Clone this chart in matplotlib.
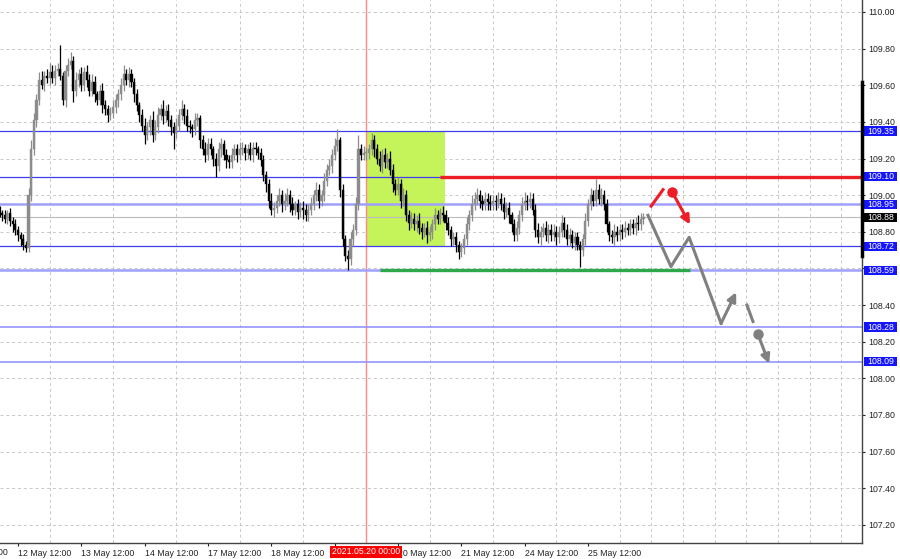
import matplotlib
matplotlib.use('Agg')
import matplotlib.pyplot as plt
import matplotlib.transforms as mtransforms
from matplotlib.patches import Rectangle, FancyArrowPatch
import numpy as np

plt.rcParams['font.family'] = ['Liberation Sans', 'DejaVu Sans']

# hourly candles, index 0 = 12 May 12:00 (first candle at -7)
first_hour = -7
first_open = 108.91
closes = [
    108.90, 108.89, 108.87, 108.90, 108.86, 108.84, 108.81, 108.78,
    108.76, 108.73, 108.71,
    109.00, 109.25, 109.41, 109.52,
    109.63, 109.60, 109.65, 109.64,
    109.67, 109.64, 109.68, 109.69,
    109.65, 109.52, 109.68, 109.71,
    109.73, 109.57, 109.63, 109.66,
    109.60, 109.67, 109.63, 109.57, 109.62, 109.55,
    109.52, 109.57, 109.49, 109.47, 109.44, 109.45, 109.48,
    109.52, 109.55, 109.60, 109.66, 109.63, 109.66,
    109.62, 109.55, 109.49, 109.44, 109.38, 109.33, 109.37, 109.41, 109.33, 109.37,
    109.44, 109.47, 109.43, 109.46, 109.41, 109.37, 109.34, 109.38, 109.44, 109.47, 109.43,
    109.38, 109.37, 109.36, 109.41, 109.42, 109.30, 109.25, 109.22, 109.28, 109.25,
    109.20, 109.16, 109.25, 109.28, 109.22, 109.19, 109.18, 109.22, 109.25,
    109.22, 109.25, 109.26, 109.23, 109.25, 109.22, 109.26, 109.25, 109.23,
    109.19, 109.11, 109.06, 108.97, 108.92, 108.93, 108.97, 109.00, 108.95, 108.97, 109.00, 108.95,
    108.92, 108.95, 108.91, 108.93, 108.92, 108.89, 108.92, 108.95,
    109.00, 109.03, 108.97, 109.00, 109.08, 109.14, 109.16, 109.22, 109.27, 109.30,
    109.03, 108.76, 108.67, 108.65, 108.76, 108.81, 108.95, 109.25, 109.22,
    109.23, 109.23, 109.25, 109.30, 109.25, 109.20, 109.16, 109.22, 109.18, 109.20,
    109.14, 109.06, 109.03, 109.06, 108.97, 109.00, 108.89, 108.85, 108.87, 108.84,
    108.86, 108.82, 108.80, 108.82, 108.78, 108.80, 108.84, 108.89, 108.87, 108.90,
    108.89, 108.85, 108.81, 108.76, 108.77, 108.73, 108.69, 108.71, 108.76, 108.84,
    108.89, 108.95, 108.98, 109.00, 108.97, 108.95, 108.98, 108.96, 108.95, 108.97,
    108.96, 108.98, 108.95, 108.91, 108.93, 108.89, 108.84, 108.78, 108.82, 108.89,
    108.95, 108.97, 108.96, 108.98, 108.92, 108.81, 108.77, 108.80, 108.82, 108.78,
    108.81, 108.78, 108.80, 108.77, 108.80, 108.85, 108.81, 108.76, 108.78, 108.74,
    108.77, 108.73, 108.70, 108.76, 108.86, 108.95, 109.00, 108.97, 109.03, 108.98,
    109.00, 108.95, 108.84, 108.78, 108.77, 108.80, 108.78, 108.81, 108.80, 108.82,
    108.81, 108.84, 108.82, 108.85, 108.84, 108.87, 108.88,
]
# wick beyond the body, in pips
wick_up = [
    3, 2, 3, 2, 3, 2, 3, 2, 2, 3,
    2, 4, 5, 4, 3, 4, 5, 3, 4, 5,
    4, 3, 3, 13, 2, 3, 4, 5, 3, 4,
    3, 4, 3, 4, 3, 4, 3, 2, 3, 4,
    3, 2, 3, 4, 3, 3, 4, 5, 3, 4,
    3, 2, 3, 2, 3, 4, 3, 3, 5, 4,
    4, 3, 5, 3, 4, 3, 3, 4, 3, 5,
    3, 4, 3, 2, 4, 3, 2, 3, 4, 3,
    3, 2, 3, 4, 3, 2, 3, 3, 4, 3,
    3, 4, 3, 2, 3, 4, 3, 3, 2, 3,
    3, 2, 3, 4, 3, 3, 4, 3, 4, 4,
    3, 4, 2, 3, 3, 4, 3, 3, 4, 3,
    4, 3, 3, 4, 3, 4, 3, 4, 6, 2,
    3, 2, 3, 4, 3, 4, 8, 3, 4, 3,
    3, 4, 3, 3, 4, 3, 4, 3, 4, 3,
    3, 4, 3, 4, 3, 3, 4, 3, 3, 4,
    3, 3, 4, 3, 3, 4, 3, 3, 4, 3,
    3, 2, 3, 3, 2, 3, 3, 4, 3, 5,
    4, 4, 3, 3, 4, 3, 4, 3, 3, 4,
    3, 4, 3, 3, 2, 3, 4, 3, 4, 5,
    3, 4, 3, 3, 4, 3, 3, 4, 3, 3,
    4, 3, 3, 4, 3, 3, 4, 3, 3, 3,
    2, 3, 4, 3, 4, 3, 6, 3, 4, 3,
    3, 2, 3, 4, 3, 3, 3, 4, 3, 3,
    3, 3, 4, 3, 2,
]
wick_dn = [
    2, 3, 2, 3, 3, 4, 3, 3, 4, 3,
    2, 2, 3, 3, 4, 3, 2, 3, 3, 4,
    3, 4, 3, 2, 3, 4, 3, 2, 6, 3,
    4, 3, 3, 4, 3, 3, 4, 3, 3, 4,
    3, 4, 3, 3, 3, 4, 3, 3, 3, 4,
    3, 4, 3, 4, 3, 5, 3, 4, 4, 3,
    3, 3, 4, 3, 3, 4, 9, 3, 3, 3,
    4, 3, 3, 4, 3, 3, 4, 3, 4, 3,
    3, 4, 6, 3, 4, 3, 4, 3, 3, 3,
    4, 3, 3, 4, 3, 3, 4, 3, 3, 3,
    3, 4, 4, 3, 4, 3, 3, 4, 3, 3,
    4, 3, 3, 4, 3, 5, 3, 3, 3, 3,
    3, 4, 3, 3, 3, 3, 4, 3, 3, 4,
    4, 3, 6, 3, 4, 3, 3, 3, 3, 4,
    3, 3, 4, 3, 3, 4, 3, 3, 3, 4,
    3, 3, 4, 3, 3, 4, 3, 3, 4, 3,
    4, 3, 4, 3, 4, 3, 3, 3, 3, 4,
    3, 4, 3, 4, 4, 3, 3, 3, 3, 3,
    3, 3, 4, 3, 3, 4, 3, 3, 4, 3,
    3, 4, 3, 4, 4, 3, 3, 3, 3, 3,
    4, 3, 3, 4, 3, 4, 3, 3, 4, 3,
    3, 4, 3, 3, 4, 3, 4, 3, 4, 3,
    9, 3, 3, 3, 3, 3, 3, 3, 4, 3,
    4, 3, 3, 4, 3, 3, 4, 3, 3, 3,
    3, 4, 3, 3, 3,
]

# horizontal levels
dark_levels = [109.35, 109.10, 108.72]
light_levels = [108.95, 108.59]
low_levels = [108.28, 108.09]
bid = 108.88

# x tick labels (every 24 hours, at 12:00)
tick_days = ['11 May', '12 May', '13 May', '14 May', '17 May', '18 May',
             '19 May', '20 May', '21 May', '24 May', '25 May']

# annotations
zone = (132.2, 161.8, 108.72, 109.35)       # x0, x1, y0, y1
red_line = (160, 109.10)
green_line = (137, 254.6, 108.59)
gray_x = [238.7, 247.4, 254.3, 266.4, 272.1]
gray_y = [108.89, 108.61, 108.77, 108.30, 108.47]
gray_dash_x = [276.2, 278.5]
gray_dash_y = [108.40, 108.31]
gray_dot = (280.4, 108.24)
gray_arrow_end = (284.6, 108.08)
red_seg_x = [239.9, 244.4]
red_seg_y = [108.94, 109.03]
red_dot = (247.8, 109.02)
red_arrow_end = (254.6, 108.84)

closes = np.array(closes)
hours = np.arange(first_hour, first_hour + len(closes))
opens = np.concatenate([[first_open], closes[:-1]])
highs = np.maximum(opens, closes) + np.array(wick_up) / 100
lows = np.minimum(opens, closes) - np.array(wick_dn) / 100

fig = plt.figure(figsize=(9, 5.59), dpi=100)
ax = fig.add_axes([0, 16 / 559, 862 / 900, 543 / 559])

up = closes >= opens
cols = np.where(up, '#8c8c8c', '#000000')
ax.vlines(hours, lows, highs, colors=cols, lw=0.9, zorder=4)
body = np.maximum(np.abs(closes - opens), 0.004)
ax.bar(hours, body, bottom=np.minimum(opens, closes), width=0.8,
       color=cols, edgecolor=cols, lw=0.3, zorder=4)

# zone
ax.add_patch(Rectangle((zone[0], zone[2]), zone[1] - zone[0], zone[3] - zone[2],
                       color='#c4f35a', zorder=1, lw=0))
ax.axvline(132, color='#ff8888', lw=1, zorder=2)

for lv in dark_levels:
    ax.axhline(lv, color='#3f3ff0', lw=0.9, zorder=2)
for lv in light_levels:
    ax.axhline(lv, color='#a0a0ff', lw=1.8, zorder=2)
for lv in low_levels:
    ax.axhline(lv, color='#8c8cff', lw=1.1, zorder=2)
ax.axhline(bid, color='#bbbbbb', lw=0.8, zorder=2)

ax.plot([red_line[0], 330], [red_line[1]] * 2, color='#ee1c24', lw=2.4, zorder=5,
        solid_capstyle='butt')
ax.plot(green_line[:2], [green_line[2]] * 2, color='#2ea84a', lw=2.4, zorder=5,
        solid_capstyle='butt')

# forecast path
ax.plot(gray_x[:-1], gray_y[:-1], color='#808080', lw=2.2, zorder=6)
ax.add_patch(FancyArrowPatch((gray_x[-2], gray_y[-2]), (gray_x[-1], gray_y[-1]),
                             arrowstyle='-|>', mutation_scale=13, color='#808080',
                             lw=2.2, zorder=6, shrinkA=0, shrinkB=0))
ax.plot(gray_dash_x, gray_dash_y, color='#808080', lw=2.2, zorder=6)
ax.plot(*gray_dot, 'o', color='#808080', ms=6.5, zorder=6)
ax.add_patch(FancyArrowPatch(gray_dot, gray_arrow_end, arrowstyle='-|>',
                             mutation_scale=13, color='#808080', lw=2.2, zorder=6,
                             shrinkA=0, shrinkB=0))
ax.plot(red_seg_x, red_seg_y, color='#ee1c24', lw=2.2, zorder=6)
ax.plot(*red_dot, 'o', color='#ee1c24', ms=6.5, zorder=6)
ax.add_patch(FancyArrowPatch(red_dot, red_arrow_end, arrowstyle='-|>',
                             mutation_scale=13, color='#ee1c24', lw=2.2, zorder=6,
                             shrinkA=0, shrinkB=0))

# axes styling
for s in ['left', 'top']:
    ax.spines[s].set_visible(False)
for s in ['right', 'bottom']:
    ax.spines[s].set_color('#444444')
    ax.spines[s].set_linewidth(1)

yt = np.round(np.arange(107.2, 110.01, 0.2), 2)
ax.set_yticks(yt)
ax.set_yticklabels([f'{v:.2f}' for v in yt])
ax.yaxis.tick_right()
ax.tick_params(axis='y', length=2.5, width=0.8, pad=2, labelsize=6.3, colors='#222222')
ax.grid(axis='y', color='#c8c8c8', ls=(0, (3, 3)), lw=0.7)

xt = np.arange(0, 217, 24)
ax.set_xticks(xt)
ax.set_xticklabels([d + ' 12:00' for d in tick_days[1:]], ha='left')
ax.set_xticks(np.arange(-12, 330, 12), minor=True)
ax.tick_params(axis='x', which='major', length=2.5, width=0.8, pad=1.5, labelsize=6.3,
               colors='#222222')
ax.tick_params(axis='x', which='minor', length=0)
ax.grid(axis='x', which='minor', color='#c8c8c8', ls=(0, (3, 3)), lw=0.7)
ax.set_axisbelow(True)

# limits after the ticks so they are not widened
ax.set_xlim(-6.82, 319.8)
ax.set_ylim(107.101, 110.0655)

# cut-off label at the left edge
dt = mtransforms.blended_transform_factory(ax.transData, ax.transAxes)
ax.text(-24, -0.0095, tick_days[0] + ' 12:00', transform=dt, ha='left', va='top',
        fontsize=6.3, color='#222222', clip_on=False)

# price boxes on the right
bt = mtransforms.blended_transform_factory(ax.transAxes, ax.transData)
boxes = [(v, '#1414ff') for v in dark_levels + light_levels + low_levels] + [(bid, '#000000')]
for lv, fc in boxes:
    ax.add_patch(Rectangle((1 + 2 / 862, lv - 0.025), 33 / 862, 0.05, transform=bt,
                           fc=fc, ec='none', clip_on=False, zorder=7))
    ax.text(1 + 18.5 / 862, lv, f'{lv:.2f}', transform=bt, ha='center', va='center',
            fontsize=6.3, color='white', clip_on=False, zorder=8)

# thick bar on the price scale
ax.plot([1, 1], [108.67, 109.62], transform=bt, color='black', lw=2.5,
        clip_on=False, zorder=7)

# date box for the vertical line
ax.add_patch(Rectangle((118.2, -0.0275), 27.3, 0.0225, transform=dt, fc='#ff0000',
                       ec='none', clip_on=False, zorder=7))
ax.text(131.85, -0.0163, '2021.05.20 00:00', transform=dt, ha='center', va='center',
        fontsize=6.3, color='white', clip_on=False, zorder=8)

fig.savefig('out.png', dpi=100)
